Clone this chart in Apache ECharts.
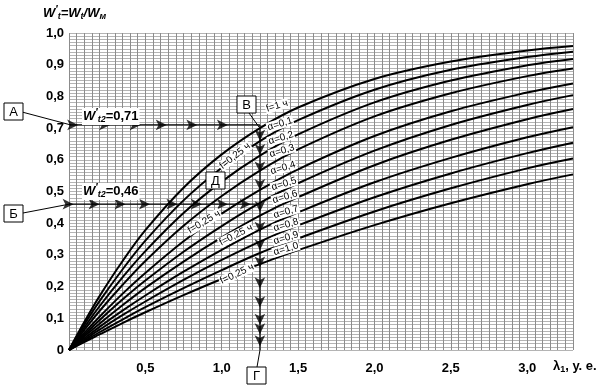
<!DOCTYPE html>
<html><head><meta charset="utf-8">
<script src="https://cdn.jsdelivr.net/npm/echarts@6/dist/echarts.min.js"></script>
<style>html,body{margin:0;padding:0;background:#fff}#c{width:611px;height:389px}</style>
</head><body><div id="c"></div>
<script>
// λ1 sample points (x axis)
const lambda = [0, 0.1, 0.2, 0.35, 0.5, 0.75, 1.0, 1.25, 1.5, 2.0, 2.5, 3.0, 3.3];
// W't values, top curve (f = 1 ч) then α = 0.1 … 1.0
const curveF1   = [0, 0.088, 0.170, 0.280, 0.378, 0.512, 0.617, 0.700, 0.765, 0.855, 0.910, 0.945, 0.959];
const alpha01   = [0, 0.080, 0.154, 0.254, 0.345, 0.472, 0.575, 0.659, 0.725, 0.821, 0.884, 0.924, 0.941];
const alpha02   = [0, 0.071, 0.138, 0.229, 0.312, 0.432, 0.531, 0.613, 0.680, 0.781, 0.850, 0.898, 0.918];
const alpha03   = [0, 0.063, 0.123, 0.205, 0.281, 0.392, 0.486, 0.566, 0.633, 0.737, 0.810, 0.864, 0.888];
const alpha04   = [0, 0.054, 0.105, 0.177, 0.243, 0.343, 0.430, 0.505, 0.570, 0.675, 0.753, 0.812, 0.841];
const alpha05   = [0, 0.048, 0.094, 0.159, 0.219, 0.310, 0.391, 0.464, 0.526, 0.629, 0.710, 0.773, 0.804];
const alpha06   = [0, 0.043, 0.083, 0.141, 0.196, 0.279, 0.355, 0.424, 0.482, 0.583, 0.663, 0.728, 0.760];
const alpha07   = [0, 0.037, 0.073, 0.124, 0.172, 0.247, 0.316, 0.380, 0.434, 0.529, 0.606, 0.671, 0.703];
const alpha08   = [0, 0.032, 0.064, 0.110, 0.153, 0.221, 0.284, 0.342, 0.393, 0.482, 0.557, 0.621, 0.654];
const alpha09   = [0, 0.028, 0.056, 0.096, 0.135, 0.195, 0.252, 0.306, 0.352, 0.437, 0.510, 0.573, 0.604];
const alpha10   = [0, 0.025, 0.049, 0.085, 0.119, 0.173, 0.224, 0.271, 0.315, 0.394, 0.463, 0.523, 0.554];
const curveNames = ['f=1 ч', 'α=0,1', 'α=0,2', 'α=0,3', 'α=0,4', 'α=0,5', 'α=0,6', 'α=0,7', 'α=0,8', 'α=0,9', 'α=1,0'];

// axis ticks
const xMin = 0, xMax = 3.3, xStep = 0.05, xLabelStep = 0.5;
const yMin = 0, yMax = 1.0, yStep = 0.01, yLabelStep = 0.1;

// construction lines (example of reading the chart)
const levelA = 0.71;          // W't2 = 0,71
const levelB = 0.46;          // W't2 = 0,46
const lambdaV = 1.25;         // vertical reading line
const arrowsA = [0.06, 0.27, 0.47, 0.64, 0.84, 1.04];
const arrowsB = [0.03, 0.20, 0.37, 0.53, 0.71, 0.87, 1.04, 1.19];
const arrowsV = [0.66, 0.615, 0.56, 0.505, 0.435, 0.37, 0.315, 0.26, 0.195, 0.135, 0.08, 0.05, 0.012];

const curves = [curveF1, alpha01, alpha02, alpha03, alpha04, alpha05, alpha06, alpha07, alpha08, alpha09, alpha10];

const FONT = '"Liberation Sans", Arial, sans-serif';
const isMult = (v, s) => Math.abs(v / s - Math.round(v / s)) < 1e-6;
const fmt = v => (Math.abs(v) < 1e-9 ? '0' : v.toFixed(1).replace('.', ','));

const series = curves.map((c, i) => ({
  name: curveNames[i], type: 'line', smooth: 0.35, showSymbol: false, silent: true,
  data: lambda.map((x, j) => [x, c[j]]),
  lineStyle: { color: '#000', width: 2 }, z: 3
}));

const thin = { color: '#000', width: 1.2 };
series.push({ type: 'line', showSymbol: false, silent: true, data: [[0, levelA], [lambdaV, levelA]], lineStyle: thin, z: 4 });
series.push({ type: 'line', showSymbol: false, silent: true, data: [[0, levelB], [lambdaV, levelB]], lineStyle: thin, z: 4 });
series.push({ type: 'line', showSymbol: false, silent: true, data: [[lambdaV, levelA], [lambdaV, 0]], lineStyle: thin, z: 4 });
series.push({ type: 'scatter', silent: true, symbol: 'arrow', symbolSize: [8, 11], symbolRotate: -90,
  itemStyle: { color: '#000' }, z: 5, data: arrowsA.map(x => [x, levelA]).concat(arrowsB.map(x => [x, levelB])) });
series.push({ type: 'scatter', silent: true, symbol: 'arrow', symbolSize: [8, 11], symbolRotate: 180,
  itemStyle: { color: '#000' }, z: 5, data: arrowsV.map(y => [lambdaV, y]) });

function box(letter, x, y) {
  return [
    { type: 'rect', z: 30, shape: { x: x, y: y, width: 19, height: 17 }, style: { fill: '#fff', stroke: '#000', lineWidth: 1 } },
    { type: 'text', z: 31, x: x + 9.5, y: y + 9, style: { text: letter, font: '13px ' + FONT, fill: '#000', align: 'center', verticalAlign: 'middle' } }
  ];
}
function seg(x1, y1, x2, y2) {
  return { type: 'line', z: 29, shape: { x1, y1, x2, y2 }, style: { stroke: '#000', lineWidth: 1 } };
}
function rotLabel(t, x, y, deg, size) {
  return { type: 'text', x: x, y: y, rotation: deg * Math.PI / 180, z: 15,
    style: { text: t, font: (size || 10) + 'px ' + FONT, fill: '#000', align: 'center', verticalAlign: 'middle',
      backgroundColor: '#fff', padding: [0, 1] } };
}
const wRich = {
  i: { fontFamily: FONT, fontStyle: 'italic', fontWeight: 'bold', fontSize: 13, fill: '#000' },
  n: { fontFamily: FONT, fontWeight: 'bold', fontSize: 13, fill: '#000' },
  sp: { fontFamily: FONT, fontStyle: 'italic', fontWeight: 'bold', fontSize: 10, fill: '#000', padding: [0, 0, 7, 0] },
  sb: { fontFamily: FONT, fontStyle: 'italic', fontWeight: 'bold', fontSize: 9, fill: '#000', padding: [7, 0, 0, 0] }
};

const graphics = [
  { type: 'text', left: 43, top: 5, z: 20, style: { text: '{i|W}{sp|′}{sb|t}{i|=W}{sb|t}{i|/W}{sb|м}', rich: wRich } },
  { type: 'text', left: 82, top: 108, z: 20, style: { text: '{i|W}{sp|′}{sb|t2}{n|=0,71}', rich: wRich, backgroundColor: '#fff', padding: [0, 1] } },
  { type: 'text', left: 82, top: 183, z: 20, style: { text: '{i|W}{sp|′}{sb|t2}{n|=0,46}', rich: wRich, backgroundColor: '#fff', padding: [0, 1] } },
  { type: 'text', left: 553, top: 360, z: 20, style: { rich: {
      a: { fontFamily: FONT, fontWeight: 'bold', fontSize: 13, fill: '#000' },
      s: { fontFamily: FONT, fontWeight: 'bold', fontSize: 9, fill: '#000', padding: [6, 0, 0, 0] } },
      text: '{a|λ}{s|1}{a|, у. е.}' } },
  rotLabel('f=1 ч', 277, 106, 17),
  rotLabel('α=0,1', 280, 124, 17),
  rotLabel('α=0,2', 281, 138, 17),
  rotLabel('α=0,3', 282, 151, 17),
  rotLabel('α=0,4', 283, 168, 17),
  rotLabel('α=0,5', 284, 184, 17),
  rotLabel('α=0,6', 285, 197, 17),
  rotLabel('α=0,7', 286, 212, 17),
  rotLabel('α=0,8', 286, 225, 17),
  rotLabel('α=0,9', 286, 238, 17),
  rotLabel('α=1,0', 286, 249, 17),
  rotLabel('f=0,25 ч', 235, 156, 38),
  rotLabel('f=0,25 ч', 204, 222, 31),
  rotLabel('f=0,25 ч', 236, 235, 27),
  rotLabel('f=0,25 ч', 237, 274, 25),
  seg(22, 112, 71, 125), seg(23, 213, 70, 204), seg(249, 113, 259, 127), seg(260, 350, 257, 367)
].concat(box('А', 4, 103), box('Б', 4, 205), box('В', 237, 96), box('Д', 206, 172), box('Г', 247, 367));

const chart = echarts.init(document.getElementById('c'), null, { renderer: 'canvas' });
chart.setOption({
  animation: false,
  backgroundColor: '#fff',
  grid: { left: 69, top: 33, right: 38, bottom: 39, containLabel: false },
  xAxis: {
    type: 'value', min: xMin, max: xMax, interval: xStep,
    axisLine: { show: false }, axisTick: { show: false },
    axisLabel: { margin: 12, color: '#000', fontFamily: FONT, fontWeight: 'bold', fontSize: 13,
      formatter: v => (v > 0 && isMult(v, xLabelStep) ? fmt(v) : '') },
    splitLine: { show: true, lineStyle: { color: '#8c8c8c', width: 1 } }
  },
  yAxis: {
    type: 'value', min: yMin, max: yMax, interval: yStep,
    axisLine: { show: false }, axisTick: { show: false },
    axisLabel: { margin: 5, color: '#000', fontFamily: FONT, fontWeight: 'bold', fontSize: 13,
      formatter: v => (isMult(v, yLabelStep) ? fmt(v) : '') },
    splitLine: { show: true, lineStyle: { color: '#b4b4b4', width: 1 } }
  },
  series: series,
  graphic: graphics
});
</script></body></html>
